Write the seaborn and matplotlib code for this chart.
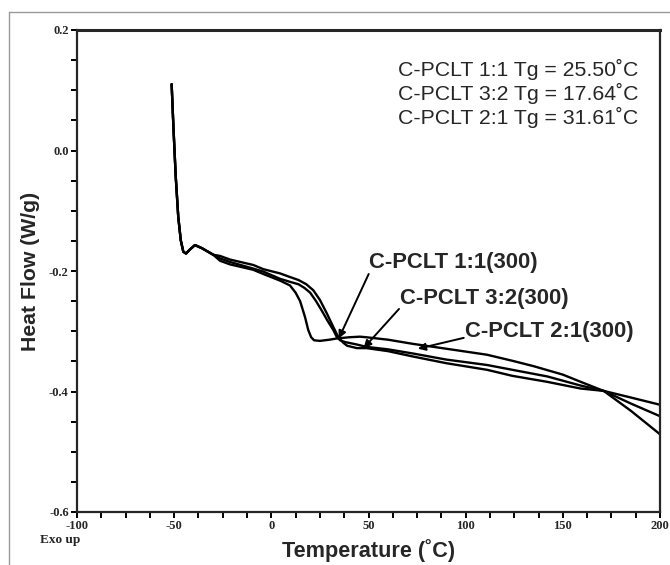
import numpy as np
import pandas as pd
import seaborn as sns
import matplotlib.pyplot as plt
from matplotlib.lines import Line2D
from matplotlib.ticker import MultipleLocator

# ---------------- data ----------------
t_start = [-51.3, -50.4, -49.2, -47.9, -46.6, -45.3, -43.9, -41.8, -39.3, -35.8, -29.9]
hf_start = [0.110, 0.040, -0.043, -0.110, -0.149, -0.168, -0.171, -0.164, -0.157, -0.162, -0.173]

t_21 = [-26.4, -21.3, -9.3, -4.1, 4.5, 9.6, 14, 18, 21.6, 25, 28.5, 31.9, 34.5, 37, 39, 44,
        49, 60, 73, 90, 111, 124, 142, 159, 171, 185, 200]
hf_21 = [-0.175, -0.181, -0.190, -0.197, -0.204, -0.210, -0.215, -0.222, -0.232, -0.248, -0.270,
         -0.293, -0.310, -0.319, -0.324, -0.328, -0.328, -0.333, -0.342, -0.353, -0.364, -0.374,
         -0.384, -0.395, -0.399, -0.410, -0.422]

t_11 = [-26.4, -21.3, -9.3, -4.1, 4.5, 9.6, 14, 17, 20, 23, 26, 29, 31.9, 33.6, 35.4, 38, 44,
        49, 60, 73, 90, 111, 124, 142, 159, 171, 185, 200]
hf_11 = [-0.179, -0.185, -0.196, -0.201, -0.213, -0.218, -0.222, -0.228, -0.236, -0.250, -0.266,
         -0.283, -0.298, -0.309, -0.315, -0.318, -0.322, -0.326, -0.330, -0.337, -0.347, -0.356,
         -0.364, -0.375, -0.390, -0.399, -0.420, -0.441]

t_32 = [-26.4, -21.3, -9.3, -4.1, 4.5, 9.6, 12.5, 14.8, 17.3, 19.0, 20.5, 22, 25, 30, 33.6, 40,
        45.6, 49, 60, 73, 90, 111, 124, 135, 150, 160, 171, 185, 200]
hf_32 = [-0.183, -0.189, -0.198, -0.205, -0.216, -0.224, -0.236, -0.250, -0.276, -0.298, -0.310,
         -0.315, -0.316, -0.314, -0.312, -0.310, -0.309, -0.310, -0.314, -0.321, -0.329, -0.339,
         -0.349, -0.358, -0.372, -0.385, -0.399, -0.432, -0.471]

samples = ['C-PCLT 1:1(300)', 'C-PCLT 3:2(300)', 'C-PCLT 2:1(300)']
tg_text = ['C-PCLT 1:1 Tg = 25.50˚C', 'C-PCLT 3:2 Tg = 17.64˚C', 'C-PCLT 2:1 Tg = 31.61˚C']

frames = []
for name, t, hf in zip(samples, [t_11, t_32, t_21], [hf_11, hf_32, hf_21]):
    frames.append(pd.DataFrame({'Temperature': t_start + t,
                                'HeatFlow': hf_start + hf,
                                'sample': name}))
df = pd.concat(frames, ignore_index=True)

# ---------------- plot ----------------
sns.set_style('ticks')
plt.rcParams['font.family'] = ['Liberation Serif', 'DejaVu Serif']
plt.rcParams['axes.unicode_minus'] = False
sans = ['Liberation Sans', 'DejaVu Sans']

fig = plt.figure(figsize=(6.7, 5.65), dpi=100)
ax = fig.add_axes([77 / 670, 1 - 512 / 565, 583 / 670, 482 / 565])

sns.lineplot(data=df, x='Temperature', y='HeatFlow', hue='sample', units='sample',
             estimator=None, sort=False, palette=['black'] * 3, linewidth=1.7,
             legend=False, ax=ax)

ax.set_xlim(-100, 200)
ax.set_ylim(-0.6, 0.2)
ax.xaxis.set_major_locator(MultipleLocator(50))
ax.xaxis.set_minor_locator(MultipleLocator(12.5))
ax.yaxis.set_major_locator(MultipleLocator(0.2))
ax.yaxis.set_minor_locator(MultipleLocator(0.05))
ax.yaxis.set_major_formatter(plt.FormatStrFormatter('%.1f'))
ax.tick_params(which='both', direction='out', width=1.4, color='black')
ax.tick_params(which='major', length=4, labelsize=9, pad=2)
ax.tick_params(which='minor', length=4)
for lbl in ax.get_xticklabels() + ax.get_yticklabels():
    lbl.set_fontweight('bold')

for side in ['left', 'bottom', 'right']:
    ax.spines[side].set_linewidth(1.6)
ax.spines['top'].set_linewidth(2.2)

ax.set_xlabel('Temperature (˚C)', family=sans, fontweight='bold', fontsize=15.6)
ax.set_ylabel('Heat Flow (W/g)', family=sans, fontweight='bold', fontsize=15.3)
ax.xaxis.set_label_coords(0.5, -0.056)
ax.yaxis.set_label_coords(-0.064, 0.5)

# Tg values, top right
for i, s in enumerate(tg_text):
    ax.text(65.2, 0.134 - i * 0.040, s, family=sans, fontsize=15.3, ha='left', va='center')

# curve labels with arrows
label_pos = [(50.1, -0.186), (66.2, -0.246), (99.7, -0.301)]
arrow_tail = [(50.1, -0.205), (65.7, -0.263), (99.0, -0.311)]
arrow_tip = [(34.7, -0.312), (47.5, -0.328), (75.4, -0.329)]
for s, p, a, b in zip(samples, label_pos, arrow_tail, arrow_tip):
    ax.text(p[0], p[1], s, family=sans, fontweight='bold', fontsize=15.8,
            ha='left', va='center')
    ax.annotate('', xy=b, xytext=a,
                arrowprops=dict(arrowstyle='-|>', color='black', lw=1.4, mutation_scale=11,
                                shrinkA=0, shrinkB=0))

fig.text(40 / 670, 1 - 540 / 565, 'Exo up', fontweight='bold', fontsize=9.5,
         ha='left', va='center')

# grey frame of the original figure
fig.add_artist(Line2D([9 / 670, 1], [1 - 12 / 565] * 2, transform=fig.transFigure,
                      color='#999999', lw=1))
fig.add_artist(Line2D([9 / 670] * 2, [0, 1 - 12 / 565], transform=fig.transFigure,
                      color='#999999', lw=1))

fig.savefig('out.png', dpi=100)
